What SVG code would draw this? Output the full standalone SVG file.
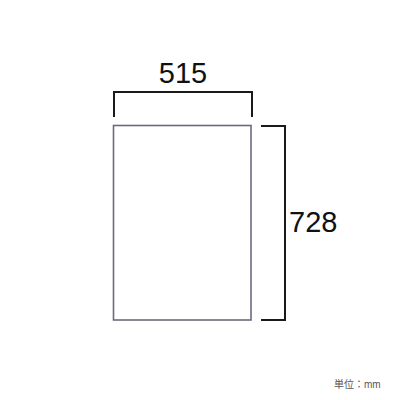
<svg xmlns="http://www.w3.org/2000/svg" width="400" height="400" viewBox="0 0 400 400">
<style>
.dim{fill:none;stroke:#1a1a1a;stroke-width:2}
.num{font-family:"Liberation Sans",Arial,sans-serif;font-size:29px;fill:#111}
.unit{font-family:"Liberation Sans","Noto Sans CJK JP",sans-serif;font-size:10px;fill:#555}
</style>
<rect width="400" height="400" fill="#fff"/>
<g id="sheet">
<rect x="113.5" y="125.5" width="137.5" height="194.5" fill="#fff" stroke="#6e6a7c" stroke-width="1.6"/>
</g>
<g id="connectors">
<path class="dim" d="M114 117V92H252V117"/>
<path class="dim" d="M261 126H285V320H261"/>
</g>
<g id="width-label"><text class="num" x="183" y="83" text-anchor="middle">515</text></g>
<g id="height-label"><text class="num" x="289" y="232">728</text></g>
<g id="unit"><text class="unit" x="334" y="388">単位：mm</text></g>
</svg>
